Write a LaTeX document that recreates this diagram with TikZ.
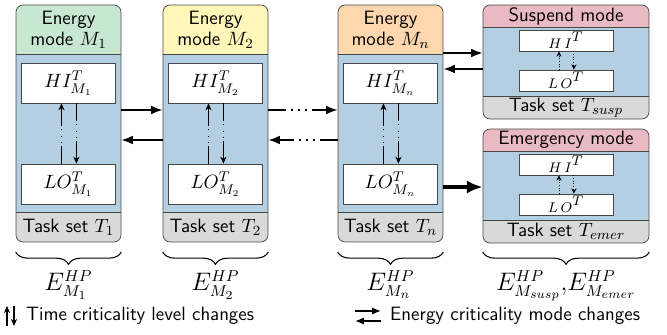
\documentclass[tikz,border=0pt]{standalone}
\usepackage{xcolor}
\usepackage{amsmath}
\usepackage{tikz}
\usetikzlibrary{arrows.meta,decorations.pathreplacing,calc}

\definecolor{hdrgreen}{RGB}{199,231,208}
\definecolor{hdryellow}{RGB}{255,247,186}
\definecolor{hdrorange}{RGB}{254,215,175}
\definecolor{hdrpink}{RGB}{233,186,196}
\definecolor{bodyblue}{RGB}{180,207,226}
\definecolor{footgray}{RGB}{217,217,217}
\definecolor{edgegray}{RGB}{70,70,70}

\tikzset{
  modebox/.style n args={3}{draw=edgegray, fill=bodyblue, rounded corners=4pt, inner sep=0pt,
    path picture={
      \fill[#1, sharp corners] (path picture bounding box.north west) rectangle ([yshift=-#2]path picture bounding box.north east);
      \fill[footgray, sharp corners] (path picture bounding box.south west) rectangle ([yshift=#3]path picture bounding box.south east);
      \draw[edgegray, sharp corners] ([yshift=-#2]path picture bounding box.north west) -- ([yshift=-#2]path picture bounding box.north east);
      \draw[edgegray, sharp corners] ([yshift=#3]path picture bounding box.south west) -- ([yshift=#3]path picture bounding box.south east);
    }},
  bigmode/.style={modebox={#1}{0.98cm}{0.6cm}, minimum width=2.1cm, minimum height=4.74cm},
  smallmode/.style={modebox={#1}{0.44cm}{0.46cm}, minimum width=3.32cm, minimum height=2.28cm},
  critbox/.style={draw=edgegray, fill=white, inner sep=0pt, minimum width=1.88cm, minimum height=#1},
  tlevel/.style={line width=0.5pt, -{Stealth[length=4pt,width=3.5pt]},
    dash pattern=on 10pt off 2pt on 0.5pt off 3pt on 0.5pt off 3pt on 0.5pt off 2pt on 30pt},
  tlevelsmall/.style={line width=0.5pt, densely dotted, -{Stealth[length=3pt,width=3pt]}},
  emode/.style={line width=1.1pt, -{Latex[length=6.5pt,width=5pt]}},
  emodegap/.style={emode, dash pattern=on 10pt off 3pt on 1pt off 3pt on 1pt off 3pt on 1pt off 3pt on 40pt},
  emodeheavy/.style={line width=2.2pt, -{Latex[length=9pt,width=7.5pt]}},
  hpbrace/.style={decorate, decoration={brace, amplitude=7pt}, line width=0.6pt},
  hplabel/.style={midway, below=7pt, font=\fontsize{13.5}{15}\selectfont},
}

\begin{document}
\begin{tikzpicture}[x=0.02cm, y=-0.02cm, font=\sffamily\fontsize{11}{12}\selectfont]
  \useasboundingbox (0,0) rectangle (667,335);

  % the energy modes M_1, M_2 and M_n
  \foreach \i/\x/\c in {1/68.5/hdrgreen, 2/215.5/hdryellow, n/390.5/hdrorange} {
    \node[bigmode=\c] (m\i) at (\x,123.5) {};
    \node[align=center] (name\i) at (\x,29.5) {Energy\\mode $M_\i$};
    \node (set\i) at (\x,227) {Task set $T_\i$};
    \node[critbox=0.8cm] (hi\i) at (\x,83) {$HI^T_{M_\i}$};
    \node[critbox=0.8cm] (lo\i) at (\x,184) {$LO^T_{M_\i}$};
    % criticality level changes inside the mode
    \draw[tlevel] ([xshift=-4pt]lo\i.north) -- ([xshift=-4pt]hi\i.south);
    \draw[tlevel] ([xshift=4.5pt]hi\i.south) -- ([xshift=4.5pt]lo\i.north);
  }

  % suspend and emergency modes
  \node[smallmode=hdrpink] (susp) at (566,62) {};
  \node (suspname) at (566,16) {Suspend mode};
  \node (suspset) at (566,107.5) {Task set $T_{susp}$};
  \node[critbox=0.42cm] (hisusp) at (566,40.5) {${\scriptstyle H\,I}^{T}$};
  \node[critbox=0.42cm] (losusp) at (566,80.5) {${\scriptstyle L\,O}^{T}$};
  \draw[tlevelsmall] ([xshift=-4pt]losusp.north) -- ([xshift=-4pt]hisusp.south);
  \draw[tlevelsmall] ([xshift=4.5pt]hisusp.south) -- ([xshift=4.5pt]losusp.north);

  \node[smallmode=hdrpink] (emer) at (566,186) {};
  \node (emername) at (566,140) {Emergency mode};
  \node (emerset) at (566,231.5) {Task set $T_{emer}$};
  \node[critbox=0.42cm] (hiemer) at (566,164.5) {${\scriptstyle H\,I}^{T}$};
  \node[critbox=0.42cm] (loemer) at (566,204.5) {${\scriptstyle L\,O}^{T}$};
  \draw[tlevelsmall] ([xshift=-4pt]loemer.north) -- ([xshift=-4pt]hiemer.south);
  \draw[tlevelsmall] ([xshift=4.5pt]hiemer.south) -- ([xshift=4.5pt]loemer.north);

  % energy mode changes
  \draw[emode] (m1.east |- 0,110) -- (m2.west |- 0,110);
  \draw[emode] (m2.west |- 0,140) -- (m1.east |- 0,140);
  \draw[emodegap] (m2.east |- 0,110) -- (mn.west |- 0,110);
  \draw[emodegap] (mn.west |- 0,140) -- (m2.east |- 0,140);
  \draw[emode] (mn.east |- 0,53) -- (susp.west |- 0,53);
  \draw[emode] (susp.west |- 0,69) -- (mn.east |- 0,69);
  \draw[emodeheavy] (mn.east |- 0,187) -- (emer.west |- 0,187);

  % harvested power of each mode
  \draw[hpbrace] (m1.south east |- 0,252) -- (m1.south west |- 0,252) node[hplabel] (e1) {$E^{HP}_{M_1}$};
  \draw[hpbrace] (m2.south east |- 0,252) -- (m2.south west |- 0,252) node[hplabel] (e2) {$E^{HP}_{M_2}$};
  \draw[hpbrace] (mn.south east |- 0,252) -- (mn.south west |- 0,252) node[hplabel] (en) {$E^{HP}_{M_n}$};
  \draw[hpbrace] (emer.south east |- 0,252) -- (emer.south west |- 0,252) node[hplabel] (ese) {$E^{HP}_{M_{susp}}{,}E^{HP}_{M_{emer}}$};

  % legend
  \coordinate (tup0) at (7,326);
  \coordinate (tup1) at (7,306);
  \coordinate (tdn0) at (14,306);
  \coordinate (tdn1) at (14,326);
  \draw[line width=0.6pt, -{Stealth[length=4pt,width=3.5pt]}] (tup0) -- (tup1);
  \draw[line width=0.6pt, -{Stealth[length=4pt,width=3.5pt]}] (tdn0) -- (tdn1);
  \node[anchor=west] (tlegend) at (20,316) {Time criticality level changes};
  \coordinate (eri0) at (355,311);
  \coordinate (eri1) at (381,311);
  \coordinate (ele0) at (381,321);
  \coordinate (ele1) at (355,321);
  \draw[line width=0.8pt, -{Latex[length=5pt,width=4pt]}] (eri0) -- (eri1);
  \draw[line width=0.8pt, -{Latex[length=5pt,width=4pt]}] (ele0) -- (ele1);
  \node[anchor=west] (elegend) at (384,316) {Energy criticality mode changes};
\end{tikzpicture}
\end{document}
